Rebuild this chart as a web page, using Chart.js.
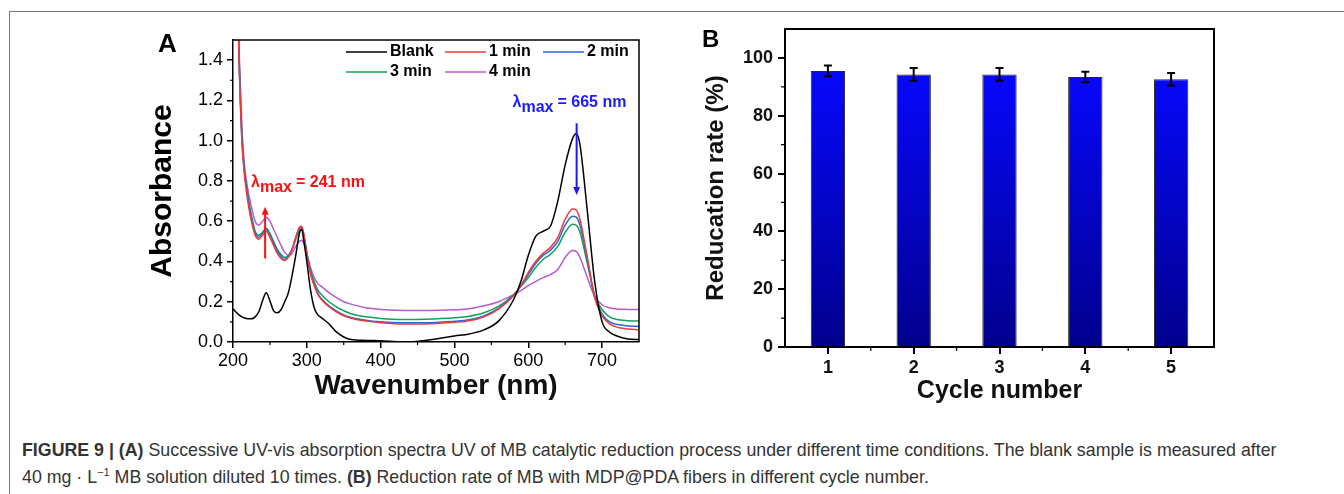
<!DOCTYPE html>
<html>
<head>
<meta charset="utf-8">
<script src="https://cdn.jsdelivr.net/npm/chart.js@4.4.1/dist/chart.umd.min.js"></script>
<style>
  body { margin: 0; background: #fff; font-family: "Liberation Sans", Arial, sans-serif; }
  #page { position: relative; width: 1344px; height: 494px; overflow: hidden; }
  .frame-top { position: absolute; left: 9px; top: 11px; width: 1335px; height: 0; border-top: 1.5px solid #777; }
  .frame-left { position: absolute; left: 9px; top: 11px; width: 0; height: 483px; border-left: 1.5px solid #777; }
  .panel { position: absolute; font-weight: bold; color: #000; line-height: 1; }
  canvas { position: absolute; }
  #caption { position: absolute; left: 22px; top: 437px; font-size: 17.8px; line-height: 27px; color: #333; white-space: nowrap; }
  #caption sup { font-size: 11px; line-height: 0; }
</style>
</head>
<body>
<div id="page">
  <div class="frame-top"></div>
  <div class="frame-left"></div>
  <canvas id="spectra" width="530" height="400" style="left:130px;top:20px"></canvas>
  <canvas id="cycles" width="540" height="410" style="left:690px;top:10px"></canvas>
  <div class="panel" style="left:158px;top:30px;font-size:26px">A</div>
  <div class="panel" style="left:702px;top:27px;font-size:24px">B</div>
  <div id="caption"><b>FIGURE 9 | (A)</b> Successive UV-vis absorption spectra UV of MB catalytic reduction process under different time conditions. The blank sample is measured after<br>40 mg · L<sup>−1</sup> MB solution diluted 10 times. <b>(B)</b> Reduction rate of MB with MDP@PDA fibers in different cycle number.</div>
</div>
<script>
// panel A: UV-vis spectra
const wavelength = [200,205,208,210,212,215,220,225,230,235,240,245,250,255,260,265,270,275,280,285,290,293,296,300,305,310,315,320,330,340,350,360,380,400,430,460,500,520,540,560,580,590,600,610,620,630,640,650,660,665,670,680,690,700,710,720,735,750];
const blank = [0.165,0.145,0.135,0.13,0.125,0.12,0.115,0.115,0.125,0.15,0.205,0.245,0.205,0.155,0.145,0.16,0.2,0.245,0.33,0.43,0.54,0.56,0.5,0.4,0.26,0.17,0.135,0.12,0.09,0.05,0.025,0.012,0.008,0.006,0.0,0.008,0.03,0.04,0.06,0.105,0.21,0.3,0.43,0.525,0.55,0.575,0.7,0.88,1.01,1.035,0.98,0.65,0.3,0.1,0.05,0.03,0.015,0.012];
const min1 = [3.2,2.0,1.42,1.18,1.0,0.85,0.7,0.6,0.53,0.51,0.53,0.55,0.52,0.48,0.44,0.415,0.405,0.42,0.46,0.52,0.57,0.575,0.535,0.44,0.34,0.28,0.235,0.21,0.175,0.15,0.13,0.118,0.104,0.096,0.09,0.09,0.098,0.105,0.125,0.165,0.23,0.28,0.345,0.4,0.44,0.47,0.52,0.61,0.66,0.655,0.61,0.42,0.22,0.13,0.09,0.074,0.065,0.061];
const min2 = [3.2,2.02,1.43,1.2,1.01,0.86,0.72,0.61,0.54,0.52,0.54,0.56,0.53,0.49,0.45,0.425,0.41,0.425,0.46,0.52,0.565,0.57,0.53,0.44,0.345,0.285,0.24,0.215,0.18,0.155,0.135,0.122,0.108,0.1,0.095,0.095,0.103,0.11,0.13,0.168,0.232,0.28,0.335,0.39,0.43,0.455,0.5,0.58,0.625,0.62,0.58,0.41,0.225,0.14,0.1,0.088,0.08,0.077];
const min3 = [3.2,2.05,1.45,1.22,1.03,0.87,0.73,0.63,0.55,0.53,0.545,0.565,0.54,0.5,0.46,0.435,0.42,0.43,0.46,0.51,0.555,0.56,0.525,0.445,0.355,0.3,0.258,0.235,0.2,0.175,0.155,0.14,0.125,0.117,0.112,0.113,0.12,0.128,0.145,0.178,0.235,0.275,0.32,0.37,0.41,0.435,0.475,0.545,0.585,0.58,0.545,0.39,0.23,0.16,0.125,0.112,0.106,0.104];
const min4 = [3.3,2.15,1.5,1.28,1.08,0.9,0.76,0.67,0.6,0.58,0.6,0.62,0.6,0.56,0.52,0.48,0.445,0.43,0.44,0.475,0.5,0.505,0.49,0.44,0.37,0.32,0.29,0.275,0.245,0.22,0.2,0.188,0.17,0.162,0.157,0.156,0.16,0.165,0.18,0.2,0.235,0.255,0.28,0.3,0.32,0.335,0.36,0.42,0.455,0.45,0.42,0.32,0.225,0.185,0.17,0.164,0.162,0.161];
const seriesNames = ['Blank', '1 min', '2 min', '3 min', '4 min'];

// panel B: reduction rate per cycle
const cycles = ['1', '2', '3', '4', '5'];
const reductionRate = [95.5, 94.3, 94.3, 93.4, 92.6];
const rateError = [1.85, 2.2, 2.2, 1.85, 2.15];

const FONT = '"Liberation Sans", Arial, sans-serif';
Chart.defaults.font.family = FONT;
Chart.defaults.color = '#000';

const colors = ['#000000', '#f03a3a', '#2369dc', '#12a05a', '#b65ad2'];
const allSeries = [blank, min1, min2, min3, min4];

function minorTicks(chart, id, values, len) {
  const s = chart.scales[id], a = chart.chartArea, c = chart.ctx;
  c.save();
  c.strokeStyle = '#000';
  c.lineWidth = 1.2;
  c.beginPath();
  values.forEach(v => {
    const p = s.getPixelForValue(v);
    if (s.isHorizontal()) { c.moveTo(p, a.bottom); c.lineTo(p, a.bottom + len); }
    else { c.moveTo(a.left, p); c.lineTo(a.left - len, p); }
  });
  c.stroke();
  c.restore();
}

function boxTopRight(chart, w) {
  const a = chart.chartArea, c = chart.ctx;
  c.save();
  c.strokeStyle = '#000';
  c.lineWidth = w;
  c.beginPath();
  c.moveTo(a.left, a.top); c.lineTo(a.right, a.top); c.lineTo(a.right, a.bottom);
  c.stroke();
  c.restore();
}

function lambdaLabel(c, x, base, value, color) {
  c.fillStyle = color;
  c.font = 'bold 16px ' + FONT;
  c.textBaseline = 'alphabetic';
  c.textAlign = 'left';
  c.fillText('λ', x, base);
  x += c.measureText('λ').width;
  c.fillText('max', x, base + 5);
  x += c.measureText('max').width + 4;
  c.fillText('= ' + value + ' nm', x, base);
}

function arrow(c, x, y0, y1, color) {
  const dir = y1 < y0 ? -1 : 1;
  c.strokeStyle = color;
  c.fillStyle = color;
  c.lineWidth = 2;
  c.beginPath(); c.moveTo(x, y0); c.lineTo(x, y1 - dir * 6); c.stroke();
  c.beginPath(); c.moveTo(x, y1); c.lineTo(x - 3.5, y1 - dir * 8); c.lineTo(x + 3.5, y1 - dir * 8); c.closePath(); c.fill();
}

const spectraDecor = {
  id: 'spectraDecor',
  afterDraw(chart) {
    const c = chart.ctx, a = chart.chartArea, xs = chart.scales.x, ys = chart.scales.y;
    boxTopRight(chart, 1.5);
    minorTicks(chart, 'y', [0.1, 0.3, 0.5, 0.7, 0.9, 1.1, 1.3], 3);
    minorTicks(chart, 'x', [250, 350, 450, 550, 650], 3);

    // legend, two rows
    const cols = [113, 212, 310];
    const rows = [12, 32];
    c.save();
    c.font = 'bold 16px ' + FONT;
    c.textBaseline = 'middle';
    seriesNames.forEach((name, i) => {
      const x = a.left + cols[i % 3], y = a.top + rows[Math.floor(i / 3)];
      c.strokeStyle = colors[i];
      c.lineWidth = 1.5;
      c.beginPath(); c.moveTo(x, y); c.lineTo(x + 41, y); c.stroke();
      c.fillStyle = '#000';
      c.fillText(name, x + 44, y);
    });

    lambdaLabel(c, xs.getPixelForValue(224.5), ys.getPixelForValue(0.77), '241', '#ff1010');
    lambdaLabel(c, xs.getPixelForValue(578.7), ys.getPixelForValue(1.167), '665', '#1a1aff');
    arrow(c, xs.getPixelForValue(243.5), ys.getPixelForValue(0.415), ys.getPixelForValue(0.672), '#ff1010');
    arrow(c, xs.getPixelForValue(665.5), ys.getPixelForValue(1.086), ys.getPixelForValue(0.73), '#1a1aff');
    c.restore();
  }
};

new Chart(document.getElementById('spectra'), {
  type: 'line',
  data: {
    datasets: allSeries.map((arr, i) => ({
      label: seriesNames[i],
      data: wavelength.map((x, k) => ({ x: x, y: arr[k] })),
      borderColor: colors[i],
      borderWidth: 1.5,
      pointRadius: 0,
      cubicInterpolationMode: 'monotone',
      fill: false
    }))
  },
  options: {
    responsive: false,
    animation: false,
    layout: { padding: { top: 20, right: 21, left: 0, bottom: 0 } },
    plugins: { legend: { display: false }, tooltip: { enabled: false } },
    scales: {
      x: {
        type: 'linear', min: 200, max: 750,
        afterFit(s) { s.height = 78; },
        ticks: { stepSize: 100, includeBounds: false, maxRotation: 0, padding: 2, font: { size: 18 }, color: '#000' },
        grid: { drawOnChartArea: false, tickLength: 6, color: '#000', lineWidth: 1.5 },
        border: { color: '#000', width: 1.5 },
        title: { display: true, text: 'Wavenumber (nm)', font: { size: 28, weight: 'bold' }, color: '#111', padding: { top: 0, bottom: 17 } }
      },
      y: {
        min: 0, max: 1.5,
        afterFit(s) { s.width = 103; },
        ticks: { stepSize: 0.2, includeBounds: false, padding: 4, font: { size: 18 }, color: '#000', callback: v => v.toFixed(1) },
        grid: { drawOnChartArea: false, tickLength: 6, color: '#000', lineWidth: 1.5 },
        border: { color: '#000', width: 1.5 },
        title: { display: true, text: 'Absorbance', font: { size: 30, weight: 'bold' }, color: '#000', padding: { top: 15, bottom: 0 } }
      }
    }
  },
  plugins: [spectraDecor]
});

const cycleDecor = {
  id: 'cycleDecor',
  afterDatasetsDraw(chart) {
    const c = chart.ctx, ys = chart.scales.y;
    const bars = chart.getDatasetMeta(0).data;
    c.save();
    c.strokeStyle = '#000';
    c.lineWidth = 2;
    c.beginPath();
    bars.forEach((b, i) => {
      const top = ys.getPixelForValue(reductionRate[i] + rateError[i]);
      const bot = ys.getPixelForValue(reductionRate[i] - rateError[i]);
      c.moveTo(b.x, top); c.lineTo(b.x, bot);
      c.moveTo(b.x - 4, top); c.lineTo(b.x + 4, top);
      c.moveTo(b.x - 4, bot); c.lineTo(b.x + 4, bot);
    });
    c.stroke();
    c.restore();
  },
  afterDraw(chart) {
    boxTopRight(chart, 2);
    minorTicks(chart, 'y', [10, 30, 50, 70, 90], 4);
    minorTicks(chart, 'x', [0.5, 1.5, 2.5, 3.5], 4);
  }
};

new Chart(document.getElementById('cycles'), {
  type: 'bar',
  data: {
    labels: cycles,
    datasets: [{
      data: reductionRate,
      backgroundColor(ctx) {
        const a = ctx.chart.chartArea;
        if (!a) return '#0000e0';
        const g = ctx.chart.ctx.createLinearGradient(0, a.top + 40, 0, a.bottom);
        g.addColorStop(0, '#0808ff');
        g.addColorStop(1, '#00008c');
        return g;
      },
      borderColor: '#2a2a10',
      borderWidth: 1,
      barPercentage: 0.4,
      categoryPercentage: 1
    }]
  },
  options: {
    responsive: false,
    animation: false,
    layout: { padding: { top: 19, right: 16, left: 0, bottom: 0 } },
    plugins: { legend: { display: false }, tooltip: { enabled: false } },
    scales: {
      x: {
        type: 'category', offset: true,
        afterFit(s) { s.height = 73; },
        ticks: { padding: 3, font: { size: 18, weight: 'bold' }, color: '#111' },
        grid: { offset: false, drawOnChartArea: false, tickLength: 7, color: '#000', lineWidth: 2 },
        border: { color: '#000', width: 2 },
        title: { display: true, text: 'Cycle number', font: { size: 25, weight: 'bold' }, color: '#111', padding: { top: 0, bottom: 14 } }
      },
      y: {
        min: 0, max: 110,
        afterFit(s) { s.width = 95; },
        ticks: { stepSize: 20, includeBounds: false, padding: 5, font: { size: 18, weight: 'bold' }, color: '#111' },
        grid: { drawOnChartArea: false, tickLength: 7, color: '#000', lineWidth: 2 },
        border: { color: '#000', width: 2 },
        title: { display: true, text: 'Reducation rate (%)', font: { size: 24, weight: 'bold' }, color: '#111', padding: { top: 12, bottom: 0 } }
      }
    }
  },
  plugins: [cycleDecor]
});
</script>
</body>
</html>
